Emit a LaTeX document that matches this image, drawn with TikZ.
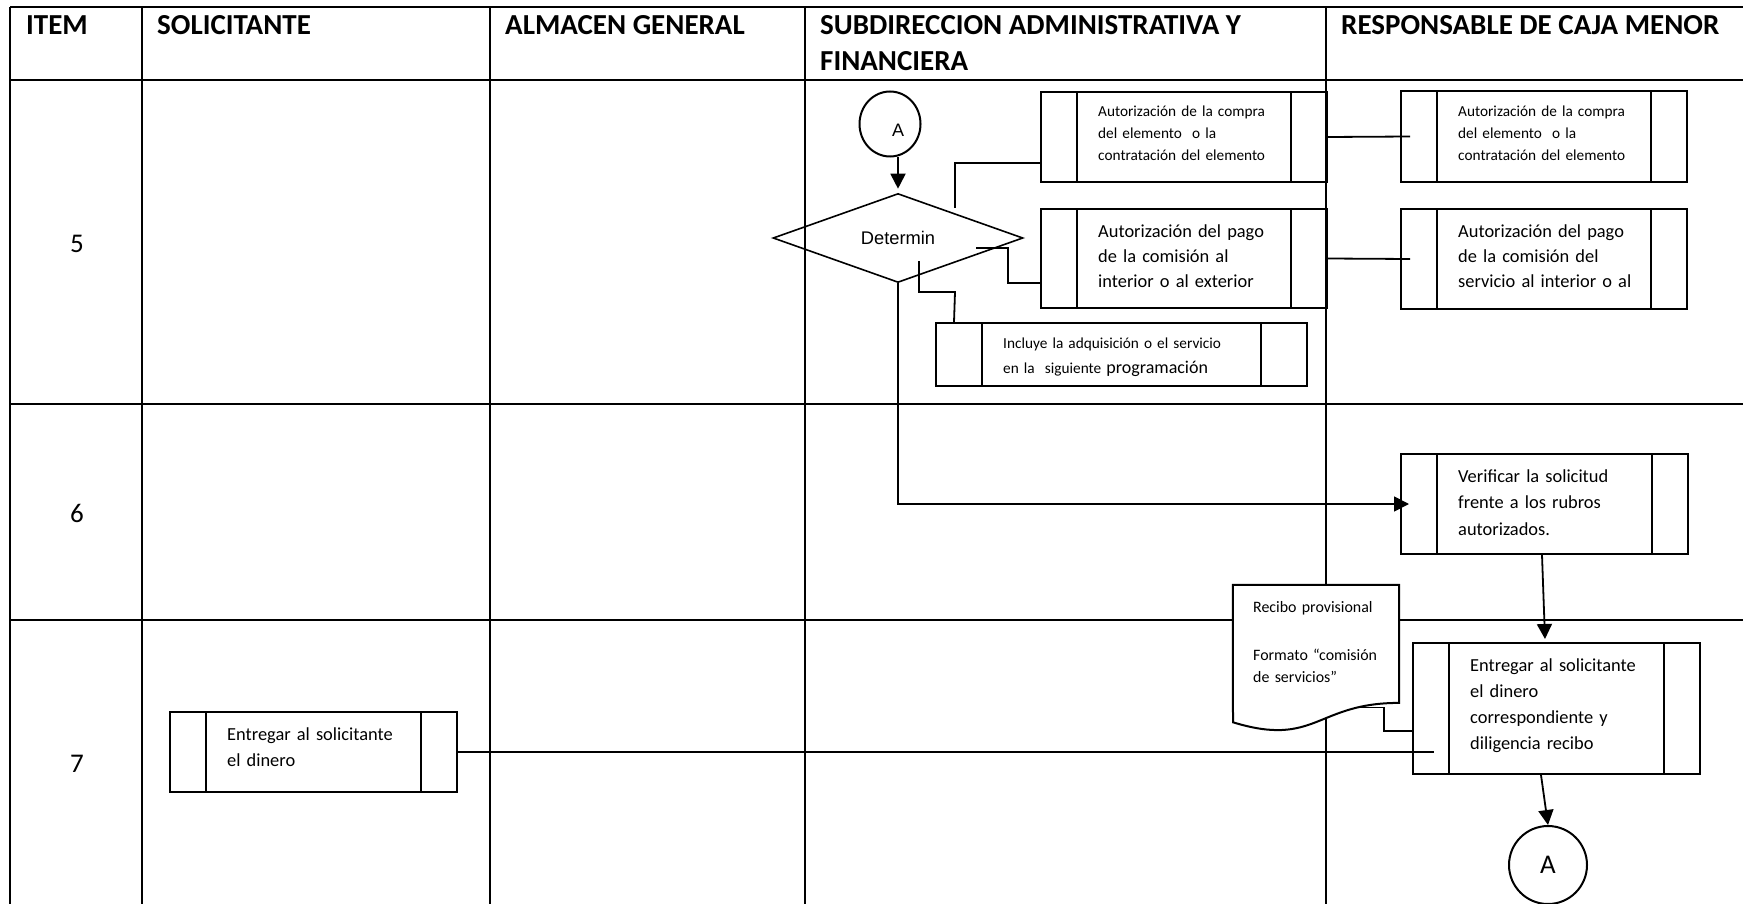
\documentclass[tikz,border=0pt]{standalone}
\usepackage{fontspec}
\setmainfont{Carlito}
\newfontfamily\arialf{Liberation Sans}
\usetikzlibrary{shapes.geometric,arrows.meta,calc}
\begin{document}
\begin{tikzpicture}[x=1pt,y=-1pt,
  lane/.style={line width=2.4pt},
  proc/.style={draw, line width=2pt, inner sep=0pt,
    path picture={\draw[line width=2pt]
      ([xshift=#1]path picture bounding box.north west) -- ([xshift=#1]path picture bounding box.south west)
      ([xshift=-#1]path picture bounding box.north east) -- ([xshift=-#1]path picture bounding box.south east);}},
  proc/.default=36pt,
  conn/.style={line width=1.8pt},
  arr/.style={conn, -{Triangle[length=15pt,width=15pt]}},
  hdr/.style={anchor=base west, inner sep=0pt, font=\fontsize{29}{36}\selectfont\bfseries},
  num/.style={inner sep=0pt, font=\fontsize{27}{32}\selectfont},
  smalltxt/.style={anchor=base west, inner sep=0pt, text width=260pt, align=left, font=\fontsize{15.3}{22}\selectfont},
  bigtxt/.style={anchor=base west, inner sep=0pt, text width=260pt, align=left, font=\fontsize{18.4}{26}\selectfont},
]
\useasboundingbox (0,0) rectangle (1743,904);

% table
\draw[lane] (10,7) -- (1743,7);
\draw[lane] (10,80) -- (1743,80);
\draw[lane] (10,404) -- (1743,404);
\draw[lane] (10,620) -- (1743,620);
\foreach \x in {10,142,490,805,1326} \draw[lane] (\x,7) -- (\x,904);

% header
\node[hdr] (hItem) at (26,35) {ITEM};
\node[hdr] (hSol) at (157,35) {SOLICITANTE};
\node[hdr] (hAlm) at (505,35) {ALMACEN GENERAL};
\node[hdr] (hSub1) at (820,35) {SUBDIRECCION ADMINISTRATIVA Y};
\node[hdr] (hSub2) at (820,71) {FINANCIERA};
\node[hdr] (hCaja) at (1341,35) {RESPONSABLE DE CAJA MENOR};

% item numbers
\node[num] (n5) at (77,243.5) {5};
\node[num] (n6) at (77,513) {6};
\node[num] (n7) at (77,764) {7};

% connector A and decision
\node[draw, ellipse, line width=2pt, minimum width=61pt, minimum height=65pt, inner sep=0pt] (cA) at (890,124) {};
\node[inner sep=0pt, font=\arialf\fontsize{18}{20}\selectfont] (cAt) at (898,130) {A};
\node[draw, diamond, line width=1.6pt, minimum width=250pt, minimum height=89pt, inner sep=0pt, shape aspect=2.8, font=\arialf\fontsize{18.3}{20}\selectfont] (dia) at (898,238) {Determin};

% process boxes
\node[proc, minimum width=286pt, minimum height=90pt] (b1) at (1184,137) {};
\node[proc, minimum width=286pt, minimum height=99pt] (b2) at (1184,258.5) {};
\node[proc=46pt, minimum width=371pt, minimum height=63pt] (b3) at (1121.5,354.5) {};
\node[proc, minimum width=286pt, minimum height=91pt] (b4) at (1544,136.5) {};
\node[proc, minimum width=286pt, minimum height=100pt] (b5) at (1544,259) {};
\node[proc, minimum width=287pt, minimum height=100pt] (ver) at (1544.5,504) {};
\node[proc, minimum width=287pt, minimum height=131pt] (ent) at (1556.5,708.5) {};
\node[proc, minimum width=287pt, minimum height=80pt] (lb) at (313.5,752) {};

% box texts
\node[smalltxt] (t1) at (1098,117) {Autorización de la compra\\del elemento~ o la\\contratación del elemento};
\node[bigtxt, font=\fontsize{18.4}{25.5}\selectfont] (t2) at (1098,237) {Autorización del pago\\de la comisión al\\interior o al exterior};
\node[smalltxt, font=\fontsize{15.3}{25}\selectfont] (t3) at (1003,348) {Incluye la adquisición o el servicio\\en la~ siguiente {\fontsize{18}{25}\selectfont programación}};
\node[smalltxt] (t4) at (1458,117) {Autorización de la compra\\del elemento~ o la\\contratación del elemento};
\node[bigtxt, font=\fontsize{18.4}{25.5}\selectfont] (t5) at (1458,237) {Autorización del pago\\de la comisión del\\servicio al interior o al};
\node[bigtxt, font=\fontsize{18.4}{26.5}\selectfont] (tv) at (1458,482) {Verificar la solicitud\\frente a los rubros\\autorizados.};
\node[bigtxt] (te) at (1470,671) {Entregar al solicitante\\el dinero\\correspondiente y\\diligencia recibo};
\node[bigtxt] (tl) at (227,740) {Entregar al solicitante\\el dinero};

% document
\node[inner sep=0pt, minimum width=166pt, minimum height=147pt] (rec) at (1316,658.5) {};
\draw[line width=2pt, fill=white] (rec.north west) -- (rec.north east) -- (1399,702.9) .. controls (1316,702.9) and (1316,747.7) .. (1233,722.3) -- cycle;
\node[smalltxt, font=\fontsize{15.9}{22}\selectfont] (tr) at (1253,612) {Recibo provisional\\[26pt]Formato “comisión\\de servicios”};

% connectors
\coordinate (d1) at (955,208);
\coordinate (d2) at (976,248);
\coordinate (d3) at (919,261);
\coordinate (recout) at (1357,707.4);
\draw[arr, shorten >=4pt] (dia.north |- cA.south) -- (dia.north);
\draw[conn] (d1) |- ([yshift=-26pt]b1.west);
\draw[conn] (d2) -- (1008,248) |- ([yshift=-24.5pt]b2.west);
\draw[conn] (d3) |- (955,292) -- ([xshift=19pt]b3.north west);
\draw[arr, shorten >=-9pt] (dia.south) |- (ver.west);
\draw[conn] (b1.east) -- ([xshift=10pt]b4.west);
\draw[conn] (b2.east) -- ([xshift=10pt]b5.west);
\draw[arr] ([xshift=-2.5pt]ver.south) -- ([xshift=-11.5pt,yshift=3pt]ent.north);
\draw[conn] (recout) -- (1384,707.4) |- ([yshift=-22.5pt]ent.west);
\draw[conn] (lb.east) -- ([xshift=22pt,yshift=-43.5pt]ent.west);
\node[draw, circle, line width=2pt, minimum size=78pt, inner sep=0pt, font=\fontsize{27}{30}\selectfont] (cB) at (1548,865) {A};
\draw[arr] ([xshift=-15.5pt]ent.south) -- (cB.north);
\end{tikzpicture}
\end{document}
